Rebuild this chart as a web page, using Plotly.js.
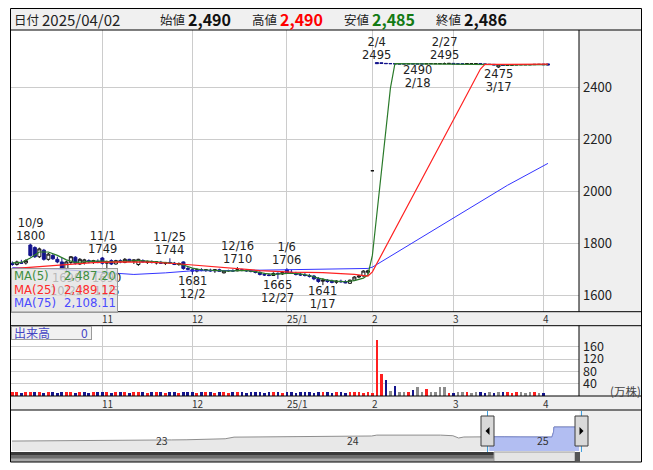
<!DOCTYPE html>
<html><head><meta charset="utf-8">
<script src="https://cdn.plot.ly/plotly-3.0.1.min.js"></script>
<style>html,body{margin:0;padding:0;background:#fff;}#chart{width:653px;height:470px;}</style>
</head><body><div id="chart"></div>
<script>
// ---------------- DATA ----------------
const dates = [
'2024/10/03','2024/10/04','2024/10/07','2024/10/08','2024/10/09','2024/10/10','2024/10/11','2024/10/15','2024/10/16','2024/10/17','2024/10/18','2024/10/21','2024/10/22','2024/10/23','2024/10/24','2024/10/25','2024/10/28','2024/10/29','2024/10/30','2024/10/31',
'2024/11/01','2024/11/05','2024/11/06','2024/11/07','2024/11/08','2024/11/11','2024/11/12','2024/11/13','2024/11/14','2024/11/15','2024/11/18','2024/11/19','2024/11/20','2024/11/21','2024/11/22','2024/11/25','2024/11/26','2024/11/27','2024/11/28','2024/11/29',
'2024/12/02','2024/12/03','2024/12/04','2024/12/05','2024/12/06','2024/12/09','2024/12/10','2024/12/11','2024/12/12','2024/12/13','2024/12/16','2024/12/17','2024/12/18','2024/12/19','2024/12/20','2024/12/23','2024/12/24','2024/12/25','2024/12/26','2024/12/27','2024/12/30',
'2025/01/06','2025/01/07','2025/01/08','2025/01/09','2025/01/10','2025/01/14','2025/01/15','2025/01/16','2025/01/17','2025/01/20','2025/01/21','2025/01/22','2025/01/23','2025/01/24','2025/01/27','2025/01/28','2025/01/29','2025/01/30','2025/01/31',
'2025/02/03','2025/02/04','2025/02/05','2025/02/06','2025/02/07','2025/02/10','2025/02/12','2025/02/13','2025/02/14','2025/02/17','2025/02/18','2025/02/19','2025/02/20','2025/02/21','2025/02/25','2025/02/26','2025/02/27','2025/02/28',
'2025/03/03','2025/03/04','2025/03/05','2025/03/06','2025/03/07','2025/03/10','2025/03/11','2025/03/12','2025/03/13','2025/03/14','2025/03/17','2025/03/18','2025/03/19','2025/03/21','2025/03/24','2025/03/25','2025/03/26','2025/03/27','2025/03/28','2025/03/31',
'2025/04/01','2025/04/02'];

const openP = [1725,1720,1728,1726,1795,1785,1750,1775,1740,1755,1740,1730,1705,1728,1748,1722,1728,1735,1730,1732,
1745,1725,1735,1722,1735,1728,1740,1732,1720,1735,1728,1730,1726,1728,1724,1728,1725,1720,1730,1705,
1700,1695,1700,1698,1698,1696,1700,1688,1696,1697,1696,1700,1698,1696,1694,1690,1682,1680,1678,1686,1684,
1700,1690,1686,1682,1680,1678,1676,1666,1656,1660,1656,1652,1656,1654,1648,1660,1672,1676,1690,
2080,2495,2494,2492,2491,2491,2490,2490,2490,2491,2490,2490,2490,2491,2491,2491,2491,2491,
2492,2490,2490,2490,2491,2491,2491,2490,2488,2488,2478,2486,2484,2485,2486,2487,2487,2487,2487,2488,
2489,2490];
const highP = [1732,1735,1738,1740,1800,1790,1785,1780,1765,1760,1750,1745,1735,1752,1752,1745,1742,1740,1738,1740,
1749,1735,1740,1738,1740,1745,1742,1740,1742,1740,1735,1736,1732,1734,1730,1744,1730,1728,1732,1712,
1706,1705,1706,1702,1704,1702,1704,1698,1700,1702,1710,1704,1702,1700,1698,1694,1688,1686,1690,1690,1695,
1706,1700,1692,1690,1688,1684,1680,1672,1668,1664,1662,1660,1662,1660,1662,1675,1680,1698,1700,
2080,2495,2494,2492,2491,2491,2490,2490,2491,2491,2490,2490,2491,2491,2491,2491,2495,2492,
2492,2490,2490,2491,2491,2491,2491,2490,2488,2488,2486,2486,2485,2486,2487,2487,2487,2487,2488,2488,
2489,2490];
const lowP = [1715,1716,1722,1720,1750,1745,1745,1735,1735,1738,1725,1700,1690,1722,1720,1718,1720,1725,1722,1725,
1720,1690,1718,1720,1725,1725,1730,1722,1715,1728,1722,1724,1720,1722,1718,1722,1718,1715,1700,1698,
1681,1690,1694,1692,1692,1688,1692,1686,1692,1693,1694,1694,1692,1690,1686,1678,1676,1675,1676,1665,1680,
1685,1684,1678,1676,1674,1670,1660,1650,1641,1650,1648,1646,1650,1648,1646,1658,1668,1674,1682,
2080,2490,2491,2491,2491,2490,2490,2490,2490,2490,2490,2490,2490,2491,2491,2491,2491,2491,
2490,2490,2490,2490,2491,2491,2490,2488,2488,2486,2475,2484,2484,2485,2486,2487,2487,2487,2487,2488,
2487,2485];
const closeP = [1720,1730,1725,1735,1755,1750,1780,1740,1760,1742,1730,1705,1730,1750,1725,1740,1738,1730,1735,1730,
1725,1728,1722,1735,1730,1740,1732,1738,1740,1730,1732,1728,1730,1725,1728,1726,1720,1724,1705,1702,
1695,1700,1698,1700,1696,1700,1694,1696,1697,1695,1700,1698,1696,1694,1690,1682,1680,1678,1686,1684,1690,
1688,1686,1682,1680,1678,1675,1665,1655,1660,1655,1652,1656,1654,1650,1660,1672,1676,1695,1696,
2080,2491,2492,2491,2491,2490,2490,2490,2491,2490,2490,2490,2491,2491,2491,2491,2491,2492,
2490,2490,2490,2491,2491,2491,2490,2488,2488,2486,2486,2484,2485,2486,2487,2487,2487,2487,2488,2488,
2487,2486];
// volume in 万株
const volume = [12,12,11,12,13,12,12,11,12,12,11,12,12,12,11,12,12,11,12,12,
12,12,11,12,12,12,11,12,12,12,11,12,12,12,11,12,12,11,12,12,
12,11,12,12,12,11,12,12,11,12,12,12,11,12,12,12,11,12,12,12,11,
12,12,11,12,12,12,11,12,12,12,11,12,12,11,12,12,12,11,12,
10,182,71,52,16,32,13,13,13,19,29,13,23,13,13,29,29,10,
11,12,12,12,11,12,12,11,12,11,12,12,12,11,12,12,11,12,12,11,
11,0];

const ma5Dates = ['2024/10/03','2024/10/07','2024/10/09','2024/10/11','2024/10/16','2024/10/18','2024/10/22','2024/10/24','2024/10/28','2024/10/30','2024/11/01','2024/11/06','2024/11/08','2024/11/12','2024/11/14','2024/11/18','2024/11/20','2024/11/22','2024/11/26','2024/11/28','2024/12/02','2024/12/04','2024/12/06','2024/12/10','2024/12/12','2024/12/16','2024/12/18','2024/12/20','2024/12/24','2024/12/26','2024/12/30','2025/01/07','2025/01/09','2025/01/14','2025/01/16','2025/01/20','2025/01/22','2025/01/24','2025/01/28','2025/01/30','2025/01/31','2025/02/03','2025/02/04','2025/02/05','2025/02/06','2025/02/07','2025/02/10','2025/02/17','2025/02/26','2025/03/05','2025/03/12','2025/03/17','2025/03/19','2025/03/24','2025/03/27','2025/04/02'];
const ma5Vals  = [1726,1728,1745,1768,1768,1755,1738,1728,1730,1733,1733,1730,1732,1733,1735,1733,1730,1727,1725,1718,1706,1700,1698,1696,1695,1697,1697,1693,1686,1682,1684,1687,1684,1678,1668,1660,1656,1654,1658,1668,1680,1756,1916,2077,2237,2397,2491,2490.4,2490.8,2490.6,2489.8,2487,2485.6,2486,2486.8,2487.20];
const ma25Dates = ['2024/10/03','2024/10/11','2024/10/22','2024/10/30','2024/11/08','2024/11/18','2024/11/26','2024/12/02','2024/12/11','2024/12/23','2025/01/07','2025/01/17','2025/01/28','2025/01/31','2025/02/03','2025/02/04','2025/02/07','2025/02/14','2025/02/20','2025/02/27','2025/03/05','2025/03/11','2025/03/12','2025/03/21','2025/03/28','2025/04/02'];
const ma25Vals  = [1704,1712,1720,1727,1730,1729,1724,1718,1707,1697,1691,1689,1682,1676,1692,1724,1821,1951,2080,2210,2340,2470,2488,2489,2489,2489.12];
const ma75Dates = ['2024/10/03','2024/10/18','2024/11/01','2024/11/13','2024/11/22','2024/12/02','2024/12/16','2024/12/30','2025/01/17','2025/01/31','2025/02/03','2025/02/18','2025/03/05','2025/03/19','2025/04/02'];
const ma75Vals  = [1708,1702,1690,1682,1688,1696,1697,1700,1703,1705,1710,1815,1920,2024,2108.11];

// high / low marks
const peakDates = ['2024/10/09','2024/10/22','2024/11/01','2024/11/05','2024/11/25','2024/12/02','2024/12/16','2024/12/27','2025/01/06','2025/01/17','2025/02/04','2025/02/18','2025/02/27','2025/03/17'];
const peakVals  = [1800,1690,1749,1690,1744,1681,1710,1665,1706,1641,2495,2490,2495,2475];
const peakKind  = ['H','L','H','L','H','L','H','L','H','L','H','L','H','L'];

// month ticks
const tickDates = ['2024/11/01','2024/12/02','2025/01/06','2025/02/03','2025/03/03','2025/04/01'];
const tickText  = ['11','12','25/1','2','3','4'];
const priceTicks = [1600,1800,2000,2200,2400];
const volTicks = [40,80,120,160];

const headerNames = ['始値','高値','安値','終値'];

// navigator (long term close, read approximately)
const navDates = ['2022-04-01','2022-05-02','2022-06-01','2022-07-01','2022-08-01','2022-09-01','2022-10-03','2022-11-01','2022-12-01','2023-01-04','2023-02-01','2023-03-01','2023-04-03','2023-05-01','2023-05-15','2023-06-01','2023-07-03','2023-08-01','2023-09-01','2023-10-02','2023-11-01','2023-12-01','2024-01-04','2024-02-01','2024-02-20','2024-03-01','2024-04-01','2024-05-01','2024-06-03','2024-07-01','2024-07-25','2024-08-05','2024-08-15','2024-09-02','2024-10-03','2024-11-01','2024-12-02','2025-01-06','2025-01-31','2025-02-03','2025-02-04','2025-03-03','2025-04-02'];
const navVals  = [1380,1395,1385,1400,1410,1400,1420,1430,1440,1460,1470,1480,1500,1530,1560,1690,1700,1680,1700,1690,1700,1700,1710,1720,1780,1850,1860,1850,1860,1850,1800,1620,1700,1710,1720,1725,1700,1690,1696,2080,2491,2490,2486];
const navTickDates = ['2023-01-01','2024-01-01','2025-01-01'];
const navTickText = ['23','24','25'];

// ---------------- STYLE / LAYOUT ----------------
const W = 653, H = 470;
const PX = p => p / W, PY = p => 1 - p / H;
const RED = '#ff1f1f', BLUE = '#14148c', GRAY = '#8c8c8c';
const JP = 'Noto Sans CJK JP';
const DV = 'DejaVu Sans';
const priceRange = [1539, 2620];
const xRange = [-0.3, 125.9];

const volColors = closeP.map((c, i) => i === 0 ? RED : (c > closeP[i-1] ? RED : (c < closeP[i-1] ? BLUE : GRAY)));
const fmt0 = v => v.toLocaleString('en-US');
const fmt2 = v => v.toLocaleString('en-US', {minimumFractionDigits: 2, maximumFractionDigits: 2});

const selStart = '2024-10-01';
const selDates = [], selVals = [];
navDates.forEach((d, i) => { if (d >= selStart) { selDates.push(d); selVals.push(navVals[i]); } });

const traces = [
  {type:'candlestick', x: dates, open: openP, high: highP, low: lowP, close: closeP, xaxis:'x', yaxis:'y',
   whiskerwidth: 0,
   increasing:{fillcolor:'#ffffff', line:{color:'#111111', width:1}},
   decreasing:{fillcolor:BLUE, line:{color:BLUE, width:1}}, hoverinfo:'skip'},
  {type:'scatter', mode:'lines', x: ma75Dates, y: ma75Vals, xaxis:'x', yaxis:'y', line:{color:'#3434ff', width:1}, hoverinfo:'skip'},
  {type:'scatter', mode:'lines', x: ma5Dates, y: ma5Vals, xaxis:'x', yaxis:'y', line:{color:'#2a7a2a', width:1.2}, hoverinfo:'skip'},
  {type:'scatter', mode:'lines', x: ma25Dates, y: ma25Vals, xaxis:'x', yaxis:'y', line:{color:'#ff2222', width:1.2}, hoverinfo:'skip'},
  {type:'bar', x: dates, y: volume, xaxis:'x2', yaxis:'y2', marker:{color: volColors, line:{width:0}}, width:0.62, hoverinfo:'skip'},
  {type:'scatter', mode:'lines', x: navDates, y: navVals, xaxis:'x3', yaxis:'y3', fill:'tozeroy', fillcolor:'#e8e8e8', line:{color:'#8e8e8e', width:1}, hoverinfo:'skip'},
  {type:'scatter', mode:'lines', x: selDates, y: selVals, xaxis:'x3', yaxis:'y3', fill:'tozeroy', fillcolor:'rgba(172,186,242,0.92)', line:{color:'#7d8cd4', width:1}, hoverinfo:'skip'}
];

const axFont = {family: JP, size: 13, color:'#222'};
const catAxis = {type:'category', categoryorder:'array', categoryarray: dates, range: xRange};

const layout = {
  width: W, height: H, margin:{l:0, r:0, t:0, b:0},
  paper_bgcolor:'#ffffff', plot_bgcolor:'#ffffff', showlegend:false, dragmode:false,
  bargap: 0, boxgap: 0.25, boxgroupgap: 0.1,
  xaxis: Object.assign({}, catAxis, {domain:[PX(11), PX(579)], anchor:'y', showgrid:true, gridcolor:'#cccccc', gridwidth:1,
    tickmode:'array', tickvals: tickDates, showticklabels:false, ticks:'', zeroline:false, showline:false, rangeslider:{visible:false}, fixedrange:true}),
  yaxis: {domain:[PY(311.7), PY(30)], anchor:'x', range: priceRange, side:'right', tickmode:'array', tickvals: priceTicks,
    showgrid:true, gridcolor:'#cccccc', ticks:'', tickfont: axFont, zeroline:false, showline:false, fixedrange:true, ticklabelstandoff: 3},
  xaxis2: Object.assign({}, catAxis, {domain:[PX(11), PX(579)], anchor:'y2', showgrid:true, gridcolor:'#cccccc',
    tickmode:'array', tickvals: tickDates, showticklabels:false, ticks:'', zeroline:false, showline:false, fixedrange:true}),
  yaxis2: {domain:[PY(396), PY(325.7)], anchor:'x2', range:[0, 228], side:'right', tickmode:'array', tickvals: volTicks,
    showgrid:true, gridcolor:'#cccccc', ticks:'', tickfont: {family: JP, size: 12.5, color:'#222'}, zeroline:false, showline:false, fixedrange:true, ticklabelstandoff: 3},
  xaxis3: {type:'date', domain:[PX(11), PX(579)], anchor:'y3', range:['2022-03-30','2025-03-24'], showgrid:false, showticklabels:false, ticks:'', zeroline:false, showline:false, fixedrange:true},
  yaxis3: {domain:[PY(451), PY(411)], anchor:'x3', range:[594, 3754], visible:false, showgrid:false, fixedrange:true},
  shapes: [], annotations: []
};

const S = layout.shapes, A = layout.annotations;
function rect(x0, y0, x1, y1, fill, line, lw, layer) {
  S.push({type:'rect', xref:'paper', yref:'paper', x0:PX(x0), x1:PX(x1), y0:PY(y1), y1:PY(y0),
    fillcolor: fill, line:{color: line || 'rgba(0,0,0,0)', width: lw === undefined ? (line ? 1 : 0) : lw}, layer: layer || 'above'});
}
function hline(x0, x1, y, color, w) { S.push({type:'line', xref:'paper', yref:'paper', x0:PX(x0), x1:PX(x1), y0:PY(y), y1:PY(y), line:{color: color, width: w || 1}}); }
function vline(x, y0, y1, color, w) { S.push({type:'line', xref:'paper', yref:'paper', x0:PX(x), x1:PX(x), y0:PY(y0), y1:PY(y1), line:{color: color, width: w || 1}}); }
function txt(x, y, text, opts) {
  A.push(Object.assign({xref:'paper', yref:'paper', x:PX(x), y:PY(y), text:text, showarrow:false, xanchor:'left', yanchor:'middle',
    font:{family: JP, size: 13, color:'#222'}, borderpad:0}, opts || {}));
}
// multi-line text with a tight line pitch (1.3 x base size), inner spans at the visible size
const tight = (lines, size, colors) => lines.map((s, i) => `<span style="font-size:${size}px${colors ? ';color:' + colors[i] : ''}">${s}</span>`).join('<br>');

// backgrounds (below the axes so that tick labels stay visible)
rect(10.5, 8.5, 641.5, 30, '#f0f0f0', null, 0, 'below');
rect(579, 30, 641.5, 410, '#efefef', null, 0, 'below');
rect(10.5, 311.7, 641.5, 325.7, '#efefef', null, 0, 'below');
rect(10.5, 396, 641.5, 410, '#efefef', null, 0, 'below');
rect(579.5, 410, 641.5, 462, '#efefef', null, 0, 'below');
// nav scrollbar
rect(11, 452, 494, 461.5, '#6d6d6d', null);
rect(11, 452, 494, 455, '#3a3a3a', null);
rect(11, 458.5, 494, 461.5, '#a8a8a8', null);
rect(494, 452, 575, 461.5, '#e4e4e4', '#9a9a9a', 1);
rect(575, 452, 580, 461.5, '#555555', null);
// nav selection edge lines
vline(487.5, 411, 452, '#3fa0e0', 1);
vline(581.5, 411, 452, '#3fa0e0', 1);
// handles
rect(481, 416, 494, 446, '#d9d9d9', '#3c3c3c', 1);
rect(575, 416, 588, 446, '#d9d9d9', '#3c3c3c', 1);
S.push({type:'path', xref:'paper', yref:'paper', path:`M${PX(489.5)},${PY(427)} L${PX(485.5)},${PY(431)} L${PX(489.5)},${PY(435)} Z`, fillcolor:'#000', line:{width:0}});
S.push({type:'path', xref:'paper', yref:'paper', path:`M${PX(579.5)},${PY(427)} L${PX(583.5)},${PY(431)} L${PX(579.5)},${PY(435)} Z`, fillcolor:'#000', line:{width:0}});
// borders
hline(10.5, 641.5, 30, '#000', 1);
vline(579, 30, 311.7, '#000', 1);
vline(579, 325.7, 396, '#000', 1);
hline(10.5, 641.5, 311.7, '#000', 1);
hline(10.5, 641.5, 325.7, '#000', 1);
hline(10.5, 641.5, 396, '#000', 1);
hline(10.5, 641.5, 410, '#000', 1);
S.push({type:'rect', xref:'paper', yref:'paper', x0:PX(10.5), x1:PX(641.5), y0:PY(462), y1:PY(8.5), line:{color:'#000', width:1}, fillcolor:'rgba(0,0,0,0)'});

// header texts
const lastI = dates.length - 1;
const hdrVals = [openP[lastI], highP[lastI], lowP[lastI], closeP[lastI]];
const hdrColors = ['#111', '#ff0000', '#137a13', '#111'];
const hdrX = [159, 251, 343, 435];
txt(13, 19.5, '日付', {font:{family: JP, size: 12.5, color:'#222'}});
txt(41, 19.5, dates[lastI], {font:{family: JP, size: 15, color:'#222'}});
headerNames.forEach((n, i) => {
  txt(hdrX[i], 19.5, n, {font:{family: JP, size: 12.5, color:'#222'}});
  txt(hdrX[i] + 28, 19, '<b>' + fmt0(hdrVals[i]) + '</b>', {font:{family: JP, size: 16, color: hdrColors[i]}});
});

// peak labels (drawn before legend box so the box covers them)
peakDates.forEach((d, i) => {
  const dd = d.slice(5).split('/').map(s => String(parseInt(s, 10))).join('/');
  const f = {family: DV, size: 10, color:'#222'};
  if (peakKind[i] === 'H') {
    A.push({xref:'x', yref:'y', x:d, y:peakVals[i], text: tight([dd, String(peakVals[i])], 11.5), showarrow:false,
      yanchor:'bottom', xanchor:'center', yshift:0, font:f, borderpad:0});
  } else {
    A.push({xref:'x', yref:'y', x:d, y:peakVals[i], text: tight([String(peakVals[i]), dd], 11.5), showarrow:false,
      yanchor:'top', xanchor:'center', yshift:2, font:f, borderpad:0});
  }
});

// MA legend box
A.push({xref:'paper', yref:'paper', x:PX(11), y:PY(267.5), xanchor:'left', yanchor:'top', text:' ', showarrow:false,
  width:105, height:43, bgcolor:'rgba(226,226,226,0.78)', bordercolor:'#9a9a9a', borderwidth:1, borderpad:0});
const maNames = ['MA(5)', 'MA(25)', 'MA(75)'];
const maLast = [ma5Vals[ma5Vals.length-1], ma25Vals[ma25Vals.length-1], ma75Vals[ma75Vals.length-1]];
const maTxtColors = ['#3f8f3f', '#ff2a2a', '#4a4aff'];
txt(12.5, 289.5, tight(maNames, 11.7, maTxtColors), {font:{family: DV, size: 10.4, color:'#222'}, align:'left'});
txt(116.5, 289.5, tight(maLast.map(fmt2), 11.7, maTxtColors), {xanchor:'right', font:{family: DV, size: 10.4, color:'#222'}, align:'right'});

// volume legend
A.push({xref:'paper', yref:'paper', x:PX(11), y:PY(326), xanchor:'left', yanchor:'top', text:' ', showarrow:false,
  width:79, height:11.5, bgcolor:'rgba(240,240,240,0.9)', bordercolor:'#9a9a9a', borderwidth:1, borderpad:0});
txt(12.5, 332, '出来高', {font:{family: JP, size: 12, color:'#4444c4'}});
txt(89, 332, String(volume[lastI]), {xanchor:'right', font:{family: JP, size: 12, color:'#4444c4'}});
txt(609, 391, '(万株)', {font:{family: JP, size: 11.5, color:'#444'}});

// month labels in both tick strips
tickDates.forEach((d, i) => {
  [[318.5, 'x'], [403, 'x2']].forEach(([yy, xr]) => {
    A.push({xref:xr, yref:'paper', x:d, y:PY(yy), text:tickText[i], showarrow:false, xanchor:'left', yanchor:'middle', xshift:-1,
      borderpad:0, font:{family: JP, size: 10, color:'#333'}});
  });
});
// navigator year labels
navTickDates.forEach((d, i) => {
  A.push({xref:'x3', yref:'paper', x:d, y:PY(440.5), text:navTickText[i], showarrow:false, xanchor:'left', yanchor:'middle', xshift:0,
    borderpad:0, font:{family: JP, size: 10.5, color:'#333'}});
});

Plotly.newPlot('chart', traces, layout, {staticPlot:true, displayModeBar:false});
</script></body></html>
